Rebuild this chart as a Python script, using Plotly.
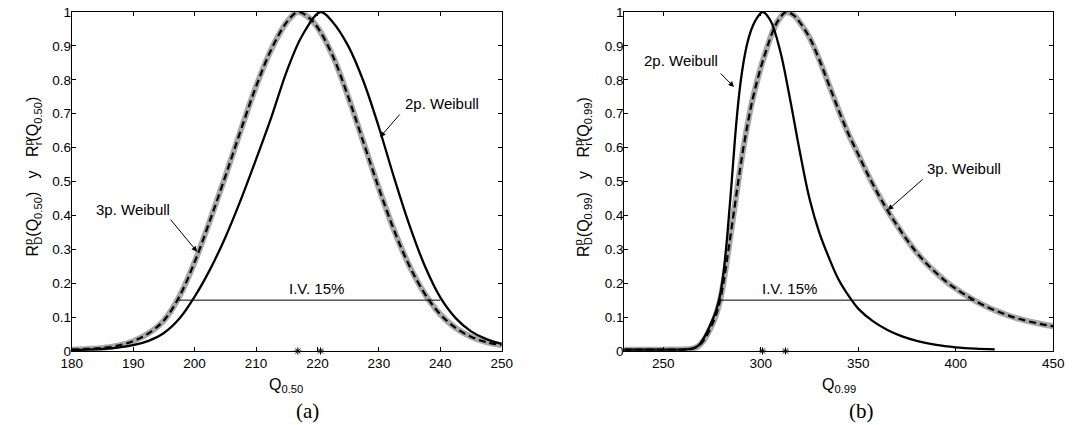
import plotly.graph_objects as go

# ---------------- panel (a): Q_0.50 ----------------
q50_3p = [180, 182.5, 185, 187.5, 190, 192.5, 195, 197.5, 200, 202.5, 205, 207.5, 210,
          212.5, 215, 216.8, 218.5, 220, 222.5, 225, 227.5, 230, 232.5, 235, 237.5, 240,
          242.5, 245, 247.5, 250]
r50_3p = [0.004, 0.006, 0.009, 0.016, 0.029, 0.052, 0.09, 0.16, 0.262, 0.385, 0.515, 0.65,
          0.78, 0.89, 0.97, 1.0, 0.985, 0.955, 0.87, 0.75, 0.615, 0.48, 0.355, 0.25, 0.168,
          0.108, 0.068, 0.042, 0.026, 0.017]

q50_2p = [180, 182.5, 185, 187.5, 190, 192.5, 195, 197.5, 200, 202.5, 205, 207.5, 210,
          212.5, 215, 217.5, 220.5, 222.5, 225, 227.5, 230, 232.5, 235, 237.5, 240, 242.5,
          245, 247.5, 250]
r50_2p = [0.003, 0.004, 0.006, 0.01, 0.017, 0.03, 0.053, 0.095, 0.16, 0.24, 0.335, 0.445,
          0.565, 0.69, 0.825, 0.93, 1.0, 0.97, 0.9, 0.795, 0.66, 0.51, 0.37, 0.25, 0.158,
          0.097, 0.058, 0.035, 0.021]

modes50 = [216.8, 220.5]
iv50 = [197.4, 240.0]

# ---------------- panel (b): Q_0.99 ----------------
q99_3p = [230, 250, 262, 265, 268, 271, 274, 277, 279, 281, 283, 285, 287, 289, 291, 293,
          295, 297, 300, 303, 306, 309, 313, 317, 320, 325, 330, 335, 340, 345, 350, 355,
          360, 365, 370, 375, 380, 385, 390, 395, 400, 405, 410, 415, 420, 425, 430, 435,
          440, 445, 450]
r99_3p = [0.004, 0.004, 0.005, 0.007, 0.014, 0.033, 0.064, 0.105, 0.145, 0.205, 0.28,
          0.36, 0.44, 0.52, 0.595, 0.66, 0.72, 0.77, 0.835, 0.89, 0.94, 0.975, 1.0, 0.99,
          0.97, 0.925, 0.86, 0.785, 0.71, 0.64, 0.58, 0.52, 0.465, 0.415, 0.37, 0.328,
          0.29, 0.258, 0.23, 0.205, 0.184, 0.165, 0.148, 0.133, 0.12, 0.109, 0.099, 0.091,
          0.084, 0.078, 0.073]

q99_2p = [230, 250, 262, 265, 268, 271, 274, 277, 279, 281, 283, 285, 287, 289, 291, 293,
          295, 297, 299, 301, 305, 310, 315, 320, 325, 330, 335, 340, 346, 350, 357.5, 365,
          372.5, 380, 390, 400, 410, 420]
r99_2p = [0.004, 0.004, 0.005, 0.007, 0.016, 0.04, 0.075, 0.118, 0.16, 0.235, 0.35, 0.49,
          0.64, 0.76, 0.845, 0.905, 0.945, 0.972, 0.99, 1.0, 0.975, 0.885, 0.745, 0.59,
          0.45, 0.35, 0.275, 0.21, 0.155, 0.125, 0.088, 0.062, 0.043, 0.03, 0.018, 0.011,
          0.007, 0.005]

modes99 = [300.9, 312.7]
iv99 = [278.7, 409.4]

iv_level = 0.15
ticks50 = [180, 190, 200, 210, 220, 230, 240, 250]
ticks99 = [250, 300, 350, 400, 450]
yticks = [0, 0.1, 0.2, 0.3, 0.4, 0.5, 0.6, 0.7, 0.8, 0.9, 1]
ytext = ["0", "0.1", "0.2", "0.3", "0.4", "0.5", "0.6", "0.7", "0.8", "0.9", "1"]

GRAY = "rgb(168,168,168)"
FONT = "Arial"
W, H = 1075, 425
TOP, BOT = 12, 74

fig = go.Figure()


def panel(xa, ya, x3, y3, x2, y2, modes, iv):
    common = dict(xaxis=xa, yaxis=ya, showlegend=False, hoverinfo="skip", mode="lines")
    fig.add_trace(go.Scatter(x=x3, y=y3, line=dict(color=GRAY, width=6, shape="spline",
                                                   smoothing=1), **common))
    fig.add_trace(go.Scatter(x=x3, y=y3, line=dict(color="black", width=2.2, dash="7px,4px",
                                                   shape="spline", smoothing=1), **common))
    fig.add_trace(go.Scatter(x=x2, y=y2, line=dict(color="black", width=2.3, shape="spline",
                                                   smoothing=1), **common))
    fig.add_trace(go.Scatter(x=iv, y=[iv_level, iv_level],
                             line=dict(color="black", width=1), **common))
    fig.add_trace(go.Scatter(x=modes, y=[0] * len(modes), mode="markers", xaxis=xa, yaxis=ya,
                             showlegend=False, hoverinfo="skip", cliponaxis=False,
                             marker=dict(symbol="asterisk-open", size=6, color="black",
                                         line=dict(color="black", width=1))))


panel("x", "y", q50_3p, r50_3p, q50_2p, r50_2p, modes50, iv50)
panel("x2", "y2", q99_3p, r99_3p, q99_2p, r99_2p, modes99, iv99)

axis_common = dict(showgrid=False, zeroline=False, showline=True, linecolor="black",
                   linewidth=1, mirror="ticks", ticks="inside", ticklen=4, tickwidth=1,
                   tickcolor="black", tickfont=dict(family=FONT, size=13.5, color="black"))
yaxis_common = dict(axis_common, ticklabelstandoff=-3)

fig.update_layout(
    width=W, height=H,
    margin=dict(l=0, r=0, t=TOP, b=BOT),
    paper_bgcolor="white", plot_bgcolor="white",
    xaxis=dict(domain=[62 / W, 501 / W], range=[180, 250], tickvals=ticks50,
               anchor="y", **axis_common),
    yaxis=dict(domain=[0, 1], range=[0, 1], tickvals=yticks, ticktext=ytext,
               anchor="x", **yaxis_common),
    xaxis2=dict(domain=[626 / W, 1064 / W], range=[230, 450], tickvals=ticks99,
                anchor="y2", **axis_common),
    yaxis2=dict(domain=[0, 1], range=[0, 1], tickvals=yticks, ticktext=ytext,
                anchor="x2", **yaxis_common),
)

ann = []
lab = dict(family=FONT, size=15, color="black")


def label(xr, yr, x, y, text, **kw):
    ann.append(dict(xref=xr, yref=yr, x=x, y=y, text=text, showarrow=False, font=lab, **kw))


def arrow(xr, yr, x0, y0, x1, y1):
    ann.append(dict(xref=xr, yref=yr, axref=xr, ayref=yr, x=x1, y=y1, ax=x0, ay=y0, text="",
                    showarrow=True, arrowhead=2, arrowsize=1.1, arrowwidth=1,
                    arrowcolor="black", standoff=0, startstandoff=0))


# curve labels with arrows
label("x", "y", 189.9, 0.416, "3p. Weibull")
arrow("x", "y", 195.9, 0.392, 200.4, 0.293)
label("x", "y", 240.3, 0.729, "2p. Weibull")
arrow("x", "y", 233.6, 0.702, 230.2, 0.631)
label("x2", "y2", 259.1, 0.858, "2p. Weibull")
arrow("x2", "y2", 278.7, 0.823, 286.3, 0.779)
label("x2", "y2", 404.4, 0.537, "3p. Weibull")
arrow("x2", "y2", 383.8, 0.51, 365.2, 0.416)

# interval labels
label("x", "y", 219.9, iv_level, "I.V. 15%", yanchor="bottom", yshift=1)
label("x2", "y2", 314.9, iv_level, "I.V. 15%", yanchor="bottom", yshift=1)


# axis titles and panel captions
def py(p):
    return (H - BOT - p) / (H - TOP - BOT)


def rp(sub, q):
    # R with stacked superscript p and subscript, applied to Q_q
    return ("R<sup><span style='letter-spacing:-6px'>p</span></sup><sub>" + sub +
            "</sub>(Q<sub>" + q + "</sub>)")


ax_font = dict(family=FONT, size=16, color="black")
ylab50 = rp("D", "0.50") + "\u00a0\u00a0\u00a0y\u00a0\u00a0\u00a0" + rp("r", "0.50")
ylab99 = rp("D", "0.99") + "\u00a0\u00a0\u00a0y\u00a0\u00a0\u00a0" + rp("r", "0.99")
ann.append(dict(xref="paper", yref="paper", x=22 / W, y=py(177), text=ylab50, textangle=-90,
                showarrow=False, font=ax_font, xanchor="center", yanchor="middle"))
ann.append(dict(xref="paper", yref="paper", x=584 / W, y=py(177), text=ylab99, textangle=-90,
                showarrow=False, font=ax_font, xanchor="center", yanchor="middle"))
ann.append(dict(xref="paper", yref="paper", x=281 / W, y=py(374), text="Q<sub>0.50</sub>",
                showarrow=False, font=ax_font, xanchor="center", yanchor="top"))
ann.append(dict(xref="paper", yref="paper", x=845 / W, y=py(374), text="Q<sub>0.99</sub>",
                showarrow=False, font=ax_font, xanchor="center", yanchor="top"))
cap_font = dict(family="Liberation Serif", size=21, color="black")
ann.append(dict(xref="paper", yref="paper", x=303 / W, y=py(397), text="(a)",
                showarrow=False, font=cap_font, xanchor="center", yanchor="top"))
ann.append(dict(xref="paper", yref="paper", x=868 / W, y=py(397), text="(b)",
                showarrow=False, font=cap_font, xanchor="center", yanchor="top"))

fig.update_layout(annotations=ann)
fig.write_html("out.html")
